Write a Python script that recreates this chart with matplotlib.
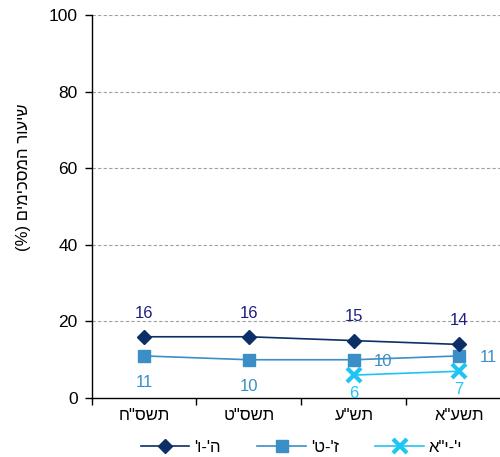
import matplotlib
matplotlib.use("Agg")
import matplotlib.pyplot as plt
import numpy as np

plt.rcParams['font.family'] = ['Liberation Sans', 'DejaVu Sans']

def vis(s):
    # Hebrew text in visual (right-to-left) order for matplotlib
    return s[::-1]

categories = ['תשס"ח', 'תשס"ט', 'תש"ע', 'תשע"א']
series_names = ["ה'-ו'", "ז'-ט'", 'י\'-י"א']
s1 = [16, 16, 15, 14]
s2 = [11, 10, 10, 11]
s3 = [np.nan, np.nan, 6, 7]
ylabel = '(%) ' + vis('שיעור המסכימים')

c1, c2, c3 = '#0b2f66', '#3a8fc6', '#1ec5f2'
l1, l2, l3 = '#1c1f80', '#3a8fc6', '#1ec5f2'

fig = plt.figure(figsize=(5.0, 4.57), dpi=100)
ax = fig.add_axes([0.183, 0.129, 0.84, 0.838])
x = np.arange(1, len(categories) + 1)

ax.plot(x, s1, color=c1, lw=1.2, marker='D', ms=7, label=vis(series_names[0]), zorder=4)
ax.plot(x, s2, color=c2, lw=1.2, marker='s', ms=8, label=vis(series_names[1]), zorder=3)
ax.plot(x, s3, color=c3, lw=1.2, marker='x', ms=10, mew=3, label=vis(series_names[2]), zorder=5)

fs = 12
for xi, v in zip(x, s1):
    ax.annotate(f'{v:g}', (xi, v), xytext=(0, 17), textcoords='offset points',
                ha='center', va='center', color=l1, fontsize=fs)
for i, (xi, v) in enumerate(zip(x, s2)):
    if np.isnan(s3[i]):
        off = (0, -19)
    else:
        off = (21, -1)
    ax.annotate(f'{v:g}', (xi, v), xytext=off, textcoords='offset points',
                ha='center', va='center', color=l2, fontsize=fs)
for xi, v in zip(x, s3):
    if not np.isnan(v):
        ax.annotate(f'{v:g}', (xi, v), xytext=(0, -13), textcoords='offset points',
                    ha='center', va='center', color=l3, fontsize=fs)

ax.set_xlim(0.5, len(categories) + 0.5)
ax.set_ylim(0, 100)
ax.set_yticks(np.arange(0, 101, 20))
ax.set_xticks(x)
ax.set_xticklabels([vis(c) for c in categories], fontsize=fs)
ax.set_xticks(np.arange(0.5, len(categories) + 0.5, 1), minor=True)
ax.tick_params(axis='x', which='major', length=0, pad=7)
ax.tick_params(axis='x', which='minor', length=5, width=1, direction='out')
ax.tick_params(axis='y', length=5, width=1, direction='out', labelsize=12.5, pad=5)
for yv in range(20, 101, 20):
    ax.axhline(yv, color='#a0a0a0', lw=0.8, ls=(0, (3, 2)), zorder=1)
ax.spines['top'].set_visible(False)
ax.spines['right'].set_visible(False)
ax.spines['left'].set_linewidth(1.0)
ax.spines['bottom'].set_linewidth(1.0)

fig.text(24 / 500, 1 - 177 / 457, ylabel, rotation=90, ha='center', va='center', fontsize=12)

ax.legend(loc='center', bbox_to_anchor=(0.5, -0.128), ncol=3, frameon=False,
          fontsize=12, handlelength=2.9, columnspacing=2.2, handletextpad=0.3)

fig.savefig('out.png', dpi=100)
